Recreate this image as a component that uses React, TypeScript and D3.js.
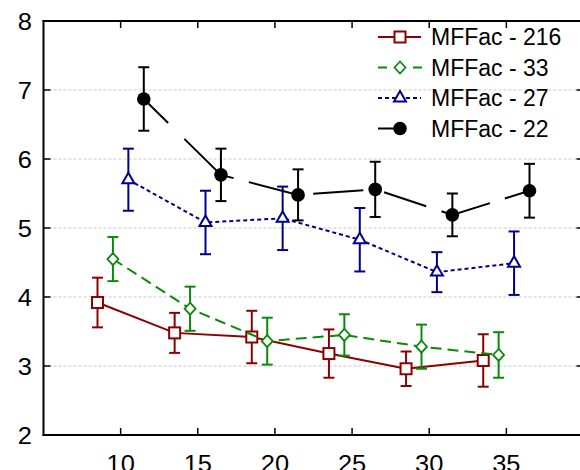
import React from "react";
import * as d3 from "d3";

const groups = [10, 15, 20, 25, 30, 35];
const seriesNames = ["MFFac - 216", "MFFac - 33", "MFFac - 27", "MFFac - 22"];
const offsets = [-1.5, -0.5, 0.5, 1.5];
const mean216 = [3.92, 3.48, 3.42, 3.18, 2.96, 3.08];
const err216 = [0.36, 0.29, 0.38, 0.35, 0.25, 0.38];
const mean33 = [4.55, 3.83, 3.36, 3.45, 3.28, 3.16];
const err33 = [0.32, 0.32, 0.34, 0.3, 0.32, 0.33];
const mean27 = [5.7, 5.08, 5.14, 4.83, 4.36, 4.49];
const err27 = [0.45, 0.46, 0.46, 0.46, 0.29, 0.46];
const mean22 = [6.87, 5.77, 5.48, 5.56, 5.19, 5.54];
const err22 = [0.46, 0.38, 0.37, 0.4, 0.31, 0.39];
const xTicks = [10, 15, 20, 25, 30, 35];
const yTicks = [2, 3, 4, 5, 6, 7, 8];

const W = 580;
const H = 470;
const FONT = "'Liberation Sans', Arial, sans-serif";

const styles = [
  { color: "#8b0000", dash: "none", marker: "square" },
  { color: "#0a8a0a", dash: "11,6", marker: "diamond" },
  { color: "#00008c", dash: "4,3", marker: "triangle" },
  { color: "#000000", dash: "34.2,22.7,64.4,15.8,56.9,9.1,50.2,21.3,44.4,16.1,50.8,15.6,40", marker: "circle" },
];

function Marker({ type, x, y, color }: { type: string; x: number; y: number; color: string }) {
  if (type === "square") {
    return <rect x={x - 5.5} y={y - 5.5} width={11} height={11} fill="#fff" stroke={color} strokeWidth={2} />;
  }
  if (type === "diamond") {
    return (
      <path
        d={`M${x},${y - 6} L${x + 5.5},${y} L${x},${y + 6} L${x - 5.5},${y} Z`}
        fill="#fff"
        stroke={color}
        strokeWidth={1.8}
      />
    );
  }
  if (type === "triangle") {
    const path = d3.symbol().type(d3.symbolTriangle).size(62)();
    return <path d={path || ""} transform={`translate(${x},${y})`} fill="#fff" stroke={color} strokeWidth={2} />;
  }
  return <circle cx={x} cy={y} r={6.8} fill={color} />;
}

function Label({
  x,
  y,
  anchor,
  size,
  stretch,
  children,
}: {
  x: number;
  y: number;
  anchor: string;
  size: number;
  stretch: number;
  children: React.ReactNode;
}) {
  return (
    <text transform={`translate(${x},${y}) scale(${stretch},1)`} textAnchor={anchor} fontSize={size} fill="#000">
      {children}
    </text>
  );
}

export default function App() {
  const x = d3.scaleLinear().domain([5, 40]).range([43.5, 583.5]);
  const y = d3.scaleLinear().domain([2, 8]).range([435, 21]);
  const means = [mean216, mean33, mean27, mean22];
  const errs = [err216, err33, err27, err22];
  const line = d3
    .line<[number, number]>()
    .x((d) => x(d[0]))
    .y((d) => y(d[1]));

  const legendY = [37, 67.5, 98, 128.5];

  return (
    <svg width={W} height={H} style={{ position: "absolute", left: 0, top: 0, background: "#fff" }} fontFamily={FONT}>
      <rect x={0} y={0} width={W} height={H} fill="#fff" />
      {/* gridlines */}
      {yTicks
        .filter((t) => t > 2 && t < 8)
        .map((t) => (
          <line key={t} x1={x(5)} x2={x(40)} y1={y(t)} y2={y(t)} stroke="#c8c8c8" strokeWidth={1} strokeDasharray="3,2" />
        ))}
      {/* series */}
      {means.map((m, si) => {
        const pts: [number, number][] = m.map((v, i) => [groups[i] + offsets[si], v]);
        const st = styles[si];
        return (
          <g key={si}>
            <path d={line(pts) || ""} fill="none" stroke={st.color} strokeWidth={2} strokeDasharray={st.dash} />
            {pts.map((p, i) => {
              const cx = x(p[0]);
              const e = errs[si][i];
              const yt = y(p[1] + e);
              const yb = y(p[1] - e);
              return (
                <g key={i} stroke={st.color} strokeWidth={2}>
                  <line x1={cx} x2={cx} y1={yt} y2={yb} />
                  <line x1={cx - 5.5} x2={cx + 5.5} y1={yt} y2={yt} />
                  <line x1={cx - 5.5} x2={cx + 5.5} y1={yb} y2={yb} />
                </g>
              );
            })}
            {pts.map((p, i) => (
              <Marker key={i} type={st.marker} x={x(p[0])} y={y(p[1])} color={st.color} />
            ))}
          </g>
        );
      })}
      {/* axes frame */}
      <g stroke="#000" strokeWidth={2} fill="none">
        <line x1={x(5)} x2={x(5)} y1={y(8) - 1} y2={y(2) + 1} />
        <line x1={x(40)} x2={x(40)} y1={y(8) - 1} y2={y(2) + 1} />
        <line x1={x(5) - 1} x2={x(40) + 1} y1={y(8)} y2={y(8)} />
        <line x1={x(5) - 1} x2={x(40) + 1} y1={y(2)} y2={y(2)} />
      </g>
      <g stroke="#000" strokeWidth={1.5}>
        {xTicks.map((t) => (
          <g key={t}>
            <line x1={x(t)} x2={x(t)} y1={y(2)} y2={y(2) - 7} />
            <line x1={x(t)} x2={x(t)} y1={y(8)} y2={y(8) + 7} />
          </g>
        ))}
        {yTicks
          .filter((t) => t > 2 && t < 8)
          .map((t) => (
            <g key={t}>
              <line x1={x(5)} x2={x(5) + 7} y1={y(t)} y2={y(t)} />
              <line x1={x(40)} x2={x(40) - 7} y1={y(t)} y2={y(t)} />
            </g>
          ))}
      </g>
      {/* tick labels */}
      {yTicks.map((t) => (
        <Label key={t} x={32} y={y(t) + 8.6} anchor="end" size={24} stretch={1.06}>
          {t}
        </Label>
      ))}
      {xTicks.map((t) => (
        <Label key={t} x={x(t)} y={472} anchor="middle" size={24} stretch={1.06}>
          {t}
        </Label>
      ))}
      {/* legend */}
      {seriesNames.map((name, si) => {
        const st = styles[si];
        const ly = legendY[si];
        let lineEl: React.ReactNode;
        if (si === 0) lineEl = <line x1={378} x2={421} y1={ly} y2={ly} stroke={st.color} strokeWidth={2} />;
        else if (si === 1)
          lineEl = <line x1={378} x2={422} y1={ly} y2={ly} stroke={st.color} strokeWidth={2} strokeDasharray="9,26,9" />;
        else if (si === 2)
          lineEl = <line x1={378} x2={421} y1={ly} y2={ly} stroke={st.color} strokeWidth={2} strokeDasharray="4,3" />;
        else lineEl = <line x1={378} x2={400} y1={ly} y2={ly} stroke={st.color} strokeWidth={2} />;
        return (
          <g key={si}>
            {lineEl}
            <Marker type={st.marker} x={400} y={ly} color={st.color} />
            <Label x={431} y={ly + 8} anchor="start" size={23} stretch={1}>
              {name}
            </Label>
          </g>
        );
      })}
    </svg>
  );
}
